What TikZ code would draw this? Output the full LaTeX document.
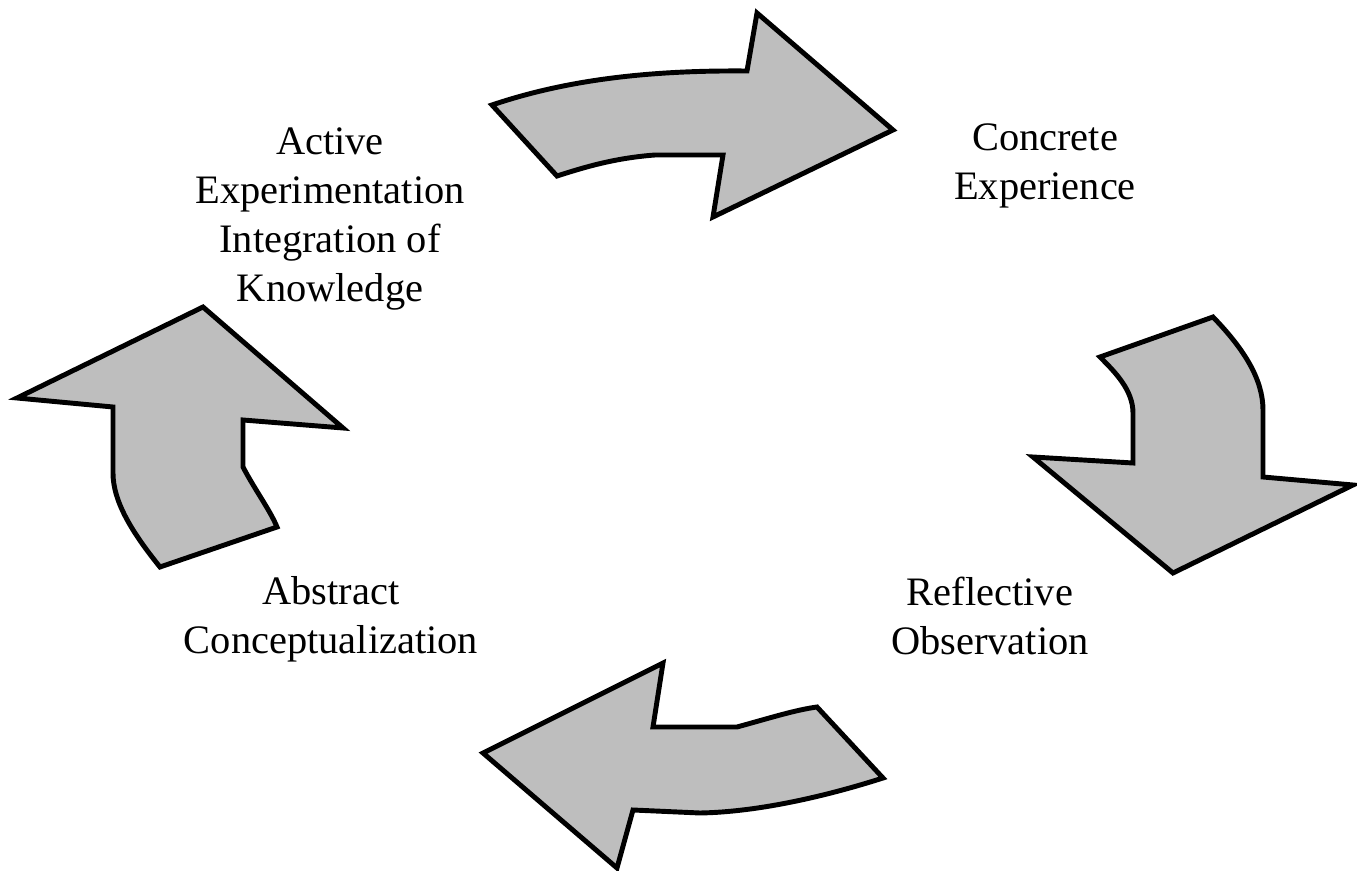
\documentclass[tikz,border=0pt]{standalone}
\usepackage{fontspec}
\setmainfont{Liberation Serif}
\definecolor{arrowgray}{RGB}{190,190,190}

\begin{document}
\begin{tikzpicture}[x=0.1mm,y=-0.1mm,
    bigarrow/.style={draw=black,fill=arrowgray,line width=1.4pt,line join=miter}]
    \useasboundingbox (0,0) rectangle (1357,871);
    % the four stages of the cycle
    \begin{scope}[every node/.style={align=center,inner sep=0pt,font=\fontsize{11.5}{13.9}\selectfont}]
        \node (CE) at (1045,166) {Concrete\\Experience};
        \node (RO) at (990,616)  {Reflective\\Observation};
        \node (AC) at (331,619)  {Abstract\\Conceptualization};
        \node (AE) at (330,219)  {Active\\Experimentation\\Integration of\\Knowledge};
    \end{scope}
    % top arrow, pointing right
    \draw[bigarrow] (492,105) .. controls (560,82) and (640,70) .. (747,71) -- (757,13)
        -- (893,130) -- (713,217) -- (723,155) -- (655,155)
        .. controls (615,158) and (585,167) .. (557,176) -- cycle;
    % right arrow, pointing down
    \draw[bigarrow] (1100,357) -- (1213,317) .. controls (1245,350) and (1263,380) .. (1263,410)
        -- (1263,477) -- (1353,485) -- (1173,573) -- (1033,457) -- (1133,463) -- (1133,413)
        .. controls (1133,390) and (1115,372) .. cycle;
    % bottom arrow, pointing left
    \draw[bigarrow] (483,753) -- (663,663) -- (653,727) -- (737,727)
        .. controls (770,718) and (795,710) .. (817,707) -- (883,778)
        .. controls (830,795) and (760,812) .. (700,813) -- (633,810) -- (617,868) -- cycle;
    % left arrow, pointing up
    \draw[bigarrow] (203,307) -- (343,428) -- (243,420) -- (243,467)
        .. controls (255,490) and (270,510) .. (277,527) -- (160,567)
        .. controls (130,530) and (113,500) .. (113,473) -- (113,407) -- (17,398) -- cycle;
\end{tikzpicture}
\end{document}
